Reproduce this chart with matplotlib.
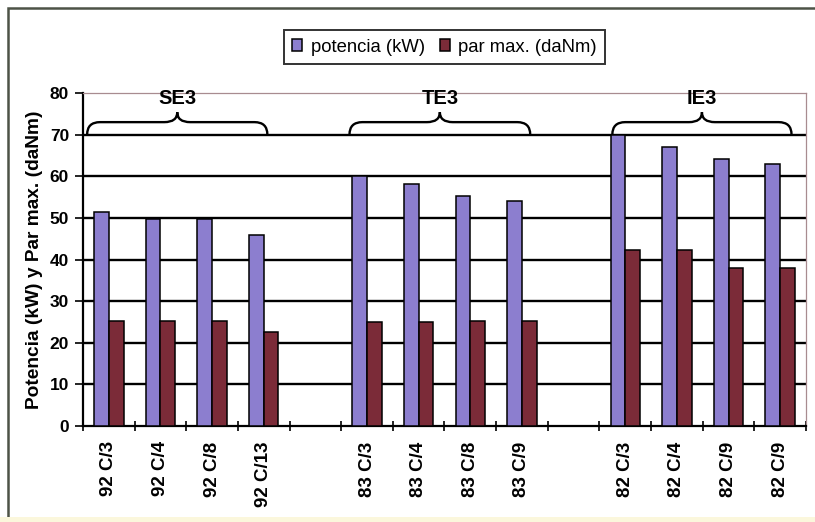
import matplotlib.pyplot as plt
import numpy as np
from matplotlib.path import Path
from matplotlib.patches import PathPatch, Rectangle

# motor models, with an empty slot between the three families
labels = ["92 C/3", "92 C/4", "92 C/8", "92 C/13", "",
          "83 C/3", "83 C/4", "83 C/8", "83 C/9", "",
          "82 C/3", "82 C/4", "82 C/9", "82 C/9"]
potencia = [51.5, 49.7, 49.8, 45.8, None,
            60.0, 58.2, 55.3, 54.0, None,
            70.0, 67.0, 64.2, 63.0]
par_max = [25.2, 25.2, 25.2, 22.7, None,
           24.9, 24.9, 25.2, 25.2, None,
           42.3, 42.3, 38.0, 38.0]
groups = ["SE3", "TE3", "IE3"]
group_spans = [(-0.42, 3.07), (4.66, 8.16), (9.75, 13.22)]

PURPLE = "#8c7ecf"
WINE = "#7b2b38"


def brace(ax, x0, x1, y0=70.0, y1=73.0, tip=75.4, r=0.25):
    xm = (x0 + x1) / 2
    verts = [(x0, y0), (x0, y1), (x0 + r, y1),
             (xm - r, y1), (xm, y1), (xm, tip),
             (xm, y1), (xm + r, y1),
             (x1 - r, y1), (x1, y1), (x1, y0)]
    codes = [Path.MOVETO, Path.CURVE3, Path.CURVE3,
             Path.LINETO, Path.CURVE3, Path.CURVE3,
             Path.CURVE3, Path.CURVE3,
             Path.LINETO, Path.CURVE3, Path.CURVE3]
    ax.add_patch(PathPatch(Path(verts, codes), facecolor="none",
                           edgecolor="black", lw=1.7, zorder=4, clip_on=False))


def main():
    plt.rcParams["font.family"] = ["Liberation Sans", "DejaVu Sans"]
    fig = plt.figure(figsize=(8.15, 5.22), dpi=100)
    ax = fig.add_axes([83 / 815, 1 - 426 / 522, (806 - 83) / 815, (426 - 93) / 522])

    # outer chart frame (runs off the right and bottom edges)
    fig.patches.append(Rectangle((8 / 815, -0.05), 1.1, 1 - 8 / 522 + 0.05,
                                 transform=fig.transFigure, fill=False,
                                 edgecolor="#4d5346", lw=1.8))
    fig.patches.append(Rectangle((0, 0), 1, 5 / 522, transform=fig.transFigure,
                                 facecolor="#fbf7dc", edgecolor="none"))

    x = np.arange(len(labels))
    w = 0.285
    pot = np.array([np.nan if v is None else v for v in potencia])
    par = np.array([np.nan if v is None else v for v in par_max])
    ax.bar(x - w / 2, pot, w, color=PURPLE, edgecolor="black", lw=1.1,
           label="potencia (kW)", zorder=3)
    ax.bar(x + w / 2, par, w, color=WINE, edgecolor="black", lw=1.1,
           label="par max. (daNm)", zorder=3)

    ax.set_xlim(-0.5, len(labels) - 0.5)
    ax.set_ylim(0, 80)
    ax.set_yticks(range(0, 81, 10))
    for v in range(10, 80, 10):
        ax.axhline(v, color="black", lw=1.7, zorder=1)

    for s in ("top", "right"):
        ax.spines[s].set_color("#a88c90")
        ax.spines[s].set_linewidth(0.9)
    ax.spines["left"].set_linewidth(1.6)
    ax.spines["bottom"].set_linewidth(1.6)

    # tick marks on slot boundaries, labels on slot centres
    ax.set_xticks(np.arange(-0.5, len(labels), 1.0))
    ax.set_xticklabels([])
    ax.set_xticks(x, minor=True)
    ax.set_xticklabels(labels, minor=True, rotation=90, fontweight="bold",
                       fontsize=13.5, va="top")
    ax.tick_params(axis="x", which="major", length=7, width=1.2, direction="inout")
    ax.tick_params(axis="x", which="minor", length=0, pad=11)
    ax.tick_params(axis="y", length=6, width=1.2, labelsize=12.5, pad=4)
    for t in ax.get_yticklabels():
        t.set_fontweight("bold")

    ax.set_ylabel("Potencia (kW) y Par max. (daNm)", fontsize=13.8,
                  fontweight="bold", labelpad=5)

    for name, (x0, x1) in zip(groups, group_spans):
        brace(ax, x0, x1)
        ax.text((x0 + x1) / 2, 78.6, name, ha="center", va="center",
                fontsize=14.5, fontweight="bold", clip_on=False, zorder=5)

    leg = ax.legend(loc="center", bbox_to_anchor=(0.5, 1 + 46 / 333), ncol=2,
                    fontsize=13.3, frameon=True, fancybox=False,
                    handlelength=0.55, handleheight=0.55, handletextpad=0.45,
                    columnspacing=0.8, borderpad=0.45)
    leg.get_frame().set_edgecolor("black")
    leg.get_frame().set_linewidth(1.4)

    fig.savefig("out.png", dpi=100)


if __name__ == "__main__":
    main()
